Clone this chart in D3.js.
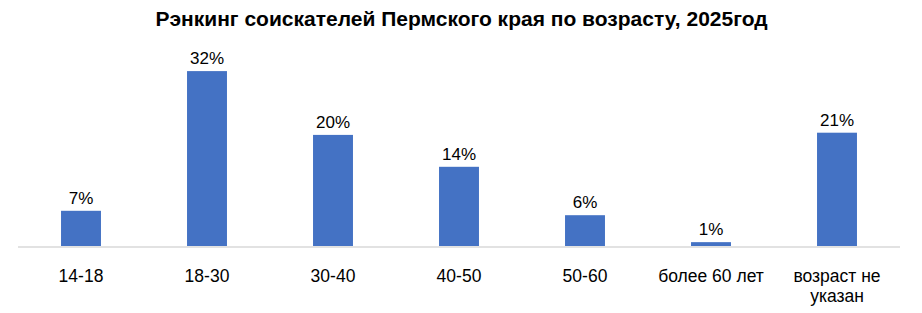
<!DOCTYPE html>
<html>
<head>
<meta charset="utf-8">
<script src="https://cdn.jsdelivr.net/npm/d3@7"></script>
<style>
  body{margin:0;background:#fff;}
  svg{display:block;font-family:"Liberation Sans",Arial,sans-serif;}
</style>
</head>
<body>
<div id="chart"></div>
<script>
const categories=["14-18","18-30","30-40","40-50","50-60","более 60 лет","возраст не указан"];
const values=[6.4,31.8,20.2,14.4,5.6,0.7,20.6];
const labels=["7%","32%","20%","14%","6%","1%","21%"];
const title="Рэнкинг соискателей Пермского края по возрасту, 2025год";

(function(){
  const W=922,H=313;
  const svg=d3.select("#chart").append("svg").attr("width",W).attr("height",H);

  const x=d3.scaleBand().domain(categories).range([18,900]).paddingInner(.683).paddingOuter(.3415);
  const y=d3.scaleLinear().domain([0,35]).range([246,53.5]);

  svg.append("text")
    .attr("x",461.5).attr("y",26)
    .attr("text-anchor","middle")
    .attr("font-size",21).attr("font-weight",700)
    .attr("fill","#000")
    .text(title);

  svg.selectAll(".bar").data(values).join("rect")
    .attr("x",(d,i)=>x(categories[i]))
    .attr("y",d=>y(d))
    .attr("width",x.bandwidth())
    .attr("height",d=>y(0)-y(d))
    .attr("fill","#4472c4");

  svg.append("line")
    .attr("x1",18).attr("x2",900)
    .attr("y1",y(0)+1).attr("y2",y(0)+1)
    .attr("stroke","#d9d9d9").attr("stroke-width",1.5);

  svg.selectAll(".val").data(values).join("text")
    .attr("x",(d,i)=>x(categories[i])+x.bandwidth()/2)
    .attr("y",d=>y(d)-7)
    .attr("text-anchor","middle")
    .attr("font-size",17).attr("fill","#000")
    .text((d,i)=>labels[i]);

  // category labels, wrapped like the original for the last one
  const lines={"возраст не указан":["возраст не","указан"]};
  const tick=svg.selectAll(".tick").data(categories).join("text")
    .attr("text-anchor","middle")
    .attr("font-size",17.5).attr("fill","#000");
  tick.each(function(c){
    const parts=lines[c]||[c];
    d3.select(this).selectAll("tspan").data(parts).join("tspan")
      .attr("x",x(c)+x.bandwidth()/2)
      .attr("y",(p,j)=>282+j*20)
      .text(p=>p);
  });
})();
</script>
</body>
</html>
